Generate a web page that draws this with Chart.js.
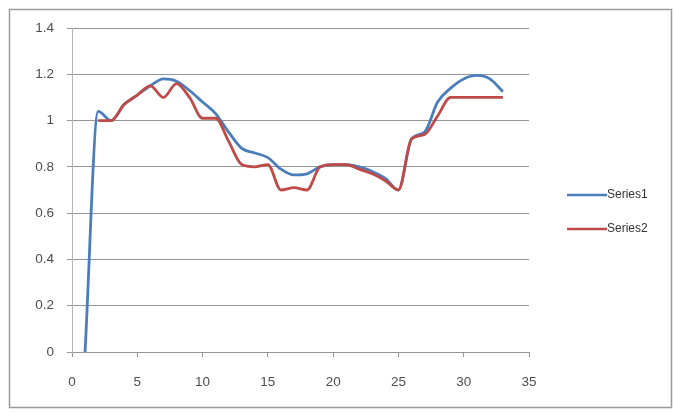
<!DOCTYPE html>
<html>
<head>
<meta charset="utf-8">
<script src="https://cdn.jsdelivr.net/npm/chart.js@4/dist/chart.umd.min.js"></script>
<style>
  html, body { margin: 0; padding: 0; background: #ffffff; }
  #wrap { width: 675px; height: 412px; position: relative; }
</style>
</head>
<body>
<div id="wrap"><canvas id="chart" width="675" height="412"></canvas></div>
<script>
// Sample positions along the horizontal axis
const xValues = [1, 2, 3, 4, 5, 6, 7, 8, 9, 10, 11, 12, 13, 14, 15, 16, 17,
                 18, 19, 20, 21, 22, 23, 24, 25, 26, 27, 28, 29, 30, 31, 32, 33];

// Measured values for each series (null = no reading)
const series1 = [0, 1.04, 1.0, 1.07, 1.11, 1.15, 1.18, 1.17, 1.13, 1.08, 1.03, 0.95,
                 0.88, 0.86, 0.84, 0.79, 0.765, 0.77, 0.80, 0.81, 0.81, 0.80, 0.78,
                 0.75, 0.70, 0.92, 0.95, 1.08, 1.14, 1.18, 1.195, 1.18, 1.125];
const series2 = [null, 1.0, 1.0, 1.07, 1.11, 1.15, 1.10, 1.16, 1.10, 1.01, 1.01, 0.91,
                 0.81, 0.80, 0.81, 0.70, 0.71, 0.70, 0.80, 0.81, 0.81, 0.79, 0.77,
                 0.74, 0.70, 0.92, 0.94, 1.02, 1.10, 1.10, 1.10, 1.10, 1.10];

const seriesNames = ['Series1', 'Series2'];
const seriesColors = ['#4a7ebb', '#be4b48'];

// Axis tick labels
const xTickLabels = ['0', '5', '10', '15', '20', '25', '30', '35'];
const yTickLabels = ['0', '0.2', '0.4', '0.6', '0.8', '1', '1.2', '1.4'];

const toPoints = (vals) => xValues.map((x, i) => ({ x: x, y: vals[i] }));

const FONT = '"Liberation Sans", Arial, sans-serif';
const TEXT = '#4d4d4d';
const GRID = '#959595';

// Outer frame around the whole chart
const framePlugin = {
  id: 'frame',
  beforeDraw(chart) {
    const ctx = chart.ctx;
    ctx.save();
    ctx.fillStyle = '#ffffff';
    ctx.fillRect(0, 0, chart.width, chart.height);
    ctx.strokeStyle = '#9a9a9a';
    ctx.lineWidth = 1.5;
    ctx.strokeRect(9.5, 9.5, 662, 398);
    ctx.restore();
  }
};

// Legend on the right: short line sample followed by the series name
const sideLegend = {
  id: 'sideLegend',
  afterDraw(chart) {
    const ctx = chart.ctx;
    ctx.save();
    ctx.font = '12px ' + FONT;
    ctx.textBaseline = 'middle';
    ctx.textAlign = 'left';
    chart.data.datasets.forEach((ds, i) => {
      const y = 195 + i * 34;
      ctx.strokeStyle = ds.borderColor;
      ctx.lineWidth = 2.6;
      ctx.beginPath();
      ctx.moveTo(567, y);
      ctx.lineTo(607, y);
      ctx.stroke();
      ctx.fillStyle = '#333333';
      ctx.fillText(ds.label, 607, y);
    });
    ctx.restore();
  }
};

new Chart(document.getElementById('chart'), {
  type: 'line',
  data: {
    datasets: [
      {
        label: seriesNames[0],
        data: toPoints(series1),
        borderColor: seriesColors[0],
        backgroundColor: seriesColors[0],
        borderWidth: 2.8,
        pointRadius: 0,
        cubicInterpolationMode: 'monotone',
        order: 1
      },
      {
        label: seriesNames[1],
        data: toPoints(series2),
        borderColor: seriesColors[1],
        backgroundColor: seriesColors[1],
        borderWidth: 2.8,
        pointRadius: 0,
        cubicInterpolationMode: 'monotone',
        order: 0
      }
    ]
  },
  options: {
    responsive: false,
    animation: false,
    devicePixelRatio: 1,
    layout: { padding: { left: 0, top: 28, right: 146, bottom: 0 } },
    plugins: {
      legend: { display: false },
      tooltip: { enabled: false }
    },
    scales: {
      x: {
        type: 'linear',
        min: 0,
        max: 35,
        afterFit(scale) { scale.height = 60; },
        afterBuildTicks(scale) {
          scale.ticks = xTickLabels.map(t => ({ value: Number(t) }));
        },
        ticks: {
          callback: (v, i) => xTickLabels[i],
          color: TEXT,
          font: { family: FONT, size: 13.5 },
          padding: 17,
          maxRotation: 0
        },
        grid: {
          drawOnChartArea: false,
          drawTicks: true,
          tickLength: 5,
          color: GRID
        },
        border: { display: true, color: GRID, width: 1 }
      },
      y: {
        min: 0,
        max: 1.4,
        afterFit(scale) { scale.width = 72; },
        afterBuildTicks(scale) {
          scale.ticks = yTickLabels.map(t => ({ value: Number(t) }));
        },
        ticks: {
          callback: (v, i) => yTickLabels[i],
          color: TEXT,
          font: { family: FONT, size: 13.5 },
          padding: 13
        },
        grid: {
          color: GRID,
          lineWidth: 1,
          drawTicks: true,
          tickLength: 5
        },
        border: { display: true, color: '#b5b5b5', width: 1 }
      }
    }
  },
  plugins: [framePlugin, sideLegend]
});
</script>
</body>
</html>
